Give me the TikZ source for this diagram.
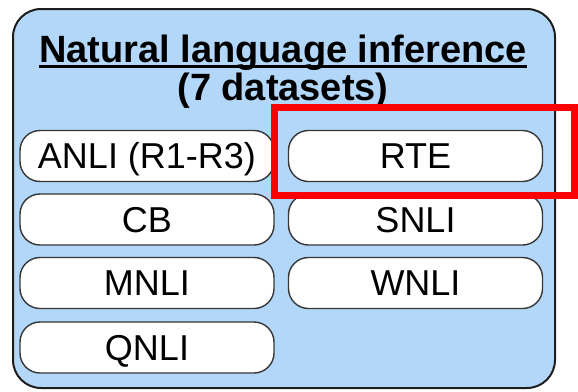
\documentclass[tikz,border=0pt]{standalone}
\usepackage{fontspec}
\setmainfont{Liberation Sans}
\definecolor{panelblue}{RGB}{178,215,249}
\definecolor{pillline}{RGB}{55,55,55}
\definecolor{outline}{RGB}{30,30,30}
\begin{document}
\begin{tikzpicture}[x=1pt,y=-1pt,
  panel/.style={draw=outline,line width=2pt,fill=panelblue,rounded corners=28pt},
  pill/.style={draw=pillline,line width=1.4pt,fill=white,rounded corners=20pt,
    minimum width=254pt,minimum height=51pt,inner sep=0pt,
    text height=25pt,text depth=0pt,font=\fontsize{36}{40}\selectfont},
  titletext/.style={inner sep=0pt,font=\bfseries\fontsize{38}{44}\selectfont},
  highlight/.style={draw=red,line width=7pt}]
\useasboundingbox (0,0) rectangle (578,391);
\draw[panel] (13,9) rectangle (555,388);
\node[titletext,anchor=base] (t1) at (283,62.7) {Natural language inference};
\draw[line width=2.8pt] ([yshift=-4pt]t1.base west) -- ([yshift=-4pt]t1.base east);
\node[titletext,anchor=base] (t2) at (283,100) {(7 datasets)};
\node[pill] (anli) at (147,156) {ANLI (R1-R3)};
\node[pill] (cb) at (147,219.5) {CB};
\node[pill] (mnli) at (147,283) {MNLI};
\node[pill] (qnli) at (147,347.5) {QNLI};
\node[pill] (rte) at (415.5,156) {RTE};
\node[pill] (snli) at (415.5,219.5) {SNLI};
\node[pill] (wnli) at (415.5,283) {WNLI};
\draw[highlight] (274,107.5) rectangle (574.5,195);
\end{tikzpicture}
\end{document}
